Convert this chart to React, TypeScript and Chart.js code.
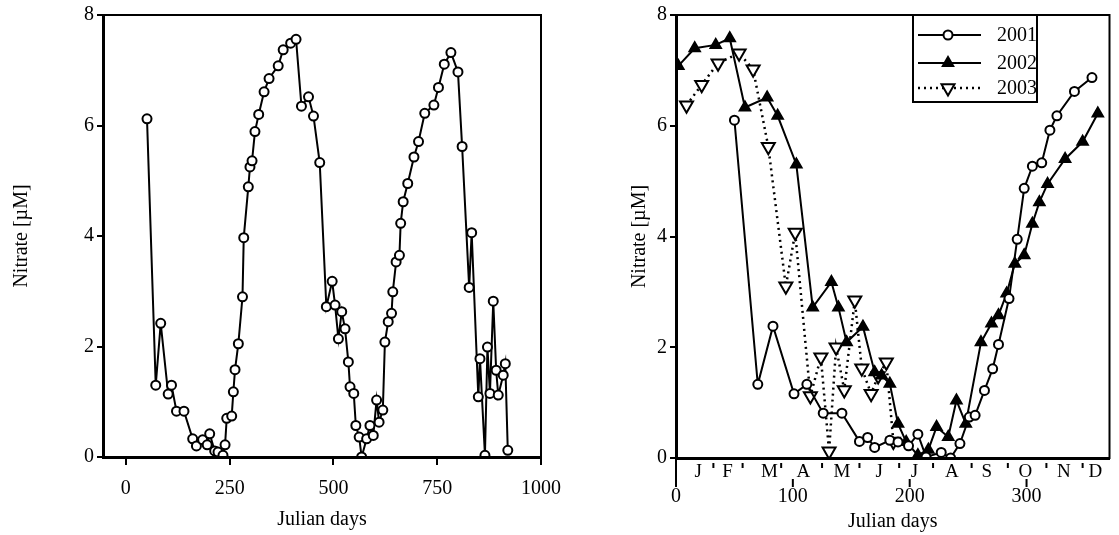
import React, { useEffect, useRef } from "react";
import { Chart, registerables } from "chart.js";

Chart.register(...registerables);

// ---------- data ----------
const leftXTicks = [0, 250, 500, 750, 1000];
const yTicks = [0, 2, 4, 6, 8];

const leftDays = [51, 72, 84, 102, 110, 122, 140, 161, 170, 185, 196, 202, 214, 222, 234, 239, 243, 255, 259, 263, 271, 281, 284, 295, 299, 304, 311, 320, 333, 345, 367, 379, 397, 410, 423, 440, 452, 467, 483, 497, 504, 512, 520, 528, 536, 540, 549, 554, 562, 568, 580, 588, 596, 604, 610, 619, 624, 632, 640, 643, 651, 659, 662, 668, 679, 694, 705, 720, 742, 753, 767, 783, 800, 810, 827, 833, 849, 853, 865, 871, 877, 885, 892, 897, 909, 914, 920];
const leftNitrate = [6.12, 1.30, 2.42, 1.14, 1.30, 0.83, 0.83, 0.33, 0.20, 0.31, 0.22, 0.42, 0.11, 0.09, 0.03, 0.22, 0.70, 0.74, 1.18, 1.58, 2.05, 2.90, 3.97, 4.89, 5.25, 5.36, 5.89, 6.20, 6.61, 6.85, 7.08, 7.37, 7.49, 7.56, 6.35, 6.52, 6.17, 5.33, 2.72, 3.18, 2.75, 2.14, 2.63, 2.32, 1.72, 1.27, 1.15, 0.57, 0.36, 0.0, 0.33, 0.57, 0.39, 1.03, 0.63, 0.85, 2.08, 2.45, 2.60, 2.99, 3.53, 3.65, 4.23, 4.62, 4.95, 5.43, 5.71, 6.22, 6.37, 6.69, 7.11, 7.32, 6.97, 5.62, 3.07, 4.06, 1.09, 1.78, 0.03, 1.99, 1.15, 2.82, 1.57, 1.12, 1.48, 1.69, 0.12];

const rightXTicks = [0, 100, 200, 300];
const monthLetters = ["J", "F", "M", "A", "M", "J", "J", "A", "S", "O", "N", "D"];
const monthLetterDays = [19, 44, 80, 109, 142, 174, 204, 236, 266, 299, 332, 359];
const monthBoundaryDays = [32, 57, 90, 125, 157, 191, 220, 253, 284, 317, 348];

const days2001 = [50, 70, 83, 101, 112, 126, 142, 157, 164, 170, 183, 190, 199, 207, 214, 227, 235, 243, 251, 256, 264, 271, 276, 285, 292, 298, 305, 313, 320, 326, 341, 356];
const nitrate2001 = [6.10, 1.33, 2.38, 1.16, 1.33, 0.81, 0.81, 0.30, 0.37, 0.19, 0.32, 0.29, 0.22, 0.43, 0.02, 0.10, 0.0, 0.26, 0.74, 0.77, 1.22, 1.61, 2.05, 2.88, 3.95, 4.87, 5.27, 5.33, 5.92, 6.18, 6.62, 6.87];

const days2002 = [2, 16, 34, 46, 59, 78, 87, 103, 117, 133, 139, 146, 160, 170, 176, 183, 190, 197, 207, 216, 223, 233, 240, 248, 261, 270, 276, 283, 290, 298, 305, 311, 318, 333, 348, 361];
const nitrate2002 = [7.08, 7.40, 7.46, 7.58, 6.33, 6.51, 6.18, 5.30, 2.72, 3.18, 2.72, 2.09, 2.37, 1.55, 1.49, 1.34, 0.62, 0.29, 0.05, 0.15, 0.56, 0.38, 1.04, 0.62, 2.09, 2.43, 2.58, 2.97, 3.51, 3.66, 4.23, 4.62, 4.95, 5.40, 5.71, 6.22];

const days2003 = [9, 22, 36, 54, 66, 79, 94, 102, 115, 124, 131, 137, 144, 153, 159, 167, 173, 180, 186];
const nitrate2003 = [6.37, 6.74, 7.13, 7.31, 7.02, 5.62, 3.10, 4.07, 1.12, 1.82, 0.12, 2.00, 1.23, 2.85, 1.62, 1.16, 1.48, 1.73, 0.30];

const seriesNames = ["2001", "2002", "2003"];

// ---------- helpers ----------
const FONT = "'Liberation Serif', 'Times New Roman', serif";
const pts = (xs: number[], ys: number[]) => xs.map((x, i) => ({ x, y: ys[i] }));
const plainLabel = (v: any) => String(v);

const framePlugin = {
  id: "frame",
  afterDraw(chart: any) {
    const { ctx, chartArea: a } = chart;
    ctx.save();
    ctx.strokeStyle = "#000";
    ctx.lineWidth = 2;
    ctx.strokeRect(a.left, a.top, a.right - a.left, a.bottom - a.top);
    ctx.restore();
  },
};

function drawMarker(ctx: CanvasRenderingContext2D, kind: string, x: number, y: number) {
  ctx.save();
  ctx.strokeStyle = "#000";
  ctx.lineWidth = 2;
  if (kind === "circle") {
    ctx.beginPath();
    ctx.arc(x, y, 4.5, 0, Math.PI * 2);
    ctx.fillStyle = "#fff";
    ctx.fill();
    ctx.stroke();
  } else if (kind === "up") {
    const r = 6;
    ctx.beginPath();
    for (let k = 0; k < 3; k++) {
      const ang = (k * 2 * Math.PI) / 3;
      const px = x + Math.sin(ang) * r;
      const py = y - Math.cos(ang) * r;
      k === 0 ? ctx.moveTo(px, py) : ctx.lineTo(px, py);
    }
    ctx.closePath();
    ctx.fillStyle = "#000";
    ctx.fill();
    ctx.stroke();
  } else {
    const r = 7.5;
    ctx.beginPath();
    for (let k = 0; k < 3; k++) {
      const ang = Math.PI + (k * 2 * Math.PI) / 3;
      const px = x + Math.sin(ang) * r;
      const py = y - Math.cos(ang) * r;
      k === 0 ? ctx.moveTo(px, py) : ctx.lineTo(px, py);
    }
    ctx.closePath();
    ctx.fillStyle = "#fff";
    ctx.fill();
    ctx.stroke();
  }
  ctx.restore();
}

const monthPlugin = {
  id: "months",
  afterDraw(chart: any) {
    const { ctx, chartArea: a } = chart;
    const xs = chart.scales.x;
    ctx.save();
    ctx.fillStyle = "#000";
    ctx.strokeStyle = "#000";
    ctx.font = `19px ${FONT}`;
    ctx.textAlign = "center";
    ctx.textBaseline = "middle";
    monthLetters.forEach((m, i) => {
      ctx.fillText(m, xs.getPixelForValue(monthLetterDays[i]), a.bottom + 14);
    });
    ctx.lineWidth = 2;
    monthBoundaryDays.forEach((d) => {
      const px = xs.getPixelForValue(d);
      ctx.beginPath();
      ctx.moveTo(px, a.bottom + 5);
      ctx.lineTo(px, a.bottom + 10);
      ctx.stroke();
    });
    rightXTicks.forEach((v) => {
      const px = xs.getPixelForValue(v);
      ctx.beginPath();
      ctx.moveTo(px, v === 0 ? a.bottom : a.bottom + 21);
      ctx.lineTo(px, a.bottom + 29);
      ctx.stroke();
    });
    ctx.restore();
  },
};

const legendPlugin = {
  id: "boxLegend",
  afterDraw(chart: any) {
    const { ctx } = chart;
    const bx = 313, by = 15, bw = 124, bh = 87;
    ctx.save();
    ctx.fillStyle = "#fff";
    ctx.fillRect(bx, by, bw, bh);
    ctx.strokeStyle = "#000";
    ctx.lineWidth = 2;
    ctx.strokeRect(bx, by, bw, bh);
    const rows = [35, 63, 88];
    const kinds = ["circle", "up", "down"];
    rows.forEach((ry, i) => {
      ctx.save();
      ctx.strokeStyle = "#000";
      ctx.lineWidth = i === 2 ? 2.5 : 2;
      if (i === 2) {
        ctx.setLineDash([2, 4]);
      }
      ctx.beginPath();
      ctx.moveTo(bx + 5, ry);
      ctx.lineTo(bx + 68, ry);
      ctx.stroke();
      ctx.restore();
      drawMarker(ctx, kinds[i], bx + 35, ry);
      ctx.fillStyle = "#000";
      ctx.font = `20px ${FONT}`;
      ctx.textAlign = "left";
      ctx.textBaseline = "middle";
      ctx.fillText(seriesNames[i], bx + 84, ry + 1);
    });
    ctx.restore();
  },
};

function axisY(width: number, titlePad: number) {
  return {
    type: "linear",
    min: 0,
    max: 8,
    afterBuildTicks: (s: any) => {
      s.ticks = yTicks.map((v) => ({ value: v }));
    },
    afterFit: (s: any) => {
      s.width = width;
    },
    grid: { drawOnChartArea: false, drawTicks: true, tickLength: 6, color: "#000", lineWidth: 2 },
    border: { display: true, color: "#000", width: 3 },
    ticks: { color: "#000", font: { family: FONT, size: 20 }, padding: 3, callback: plainLabel },
    title: {
      display: true,
      text: "Nitrate [\u00b5M]",
      color: "#000",
      font: { family: FONT, size: 20 },
      padding: { top: titlePad, bottom: 0 },
    },
  };
}

function leftConfig(): any {
  return {
    type: "line",
    data: {
      datasets: [
        {
          data: pts(leftDays, leftNitrate),
          borderColor: "#000",
          borderWidth: 2,
          pointRadius: 4.5,
          pointBorderWidth: 2,
          pointBackgroundColor: "#fff",
          pointBorderColor: "#000",
          pointStyle: "circle",
          tension: 0,
          fill: false,
        },
      ],
    },
    options: {
      responsive: false,
      animation: false,
      layout: { padding: { left: 0, right: 59, top: 15, bottom: 0 } },
      plugins: { legend: { display: false }, tooltip: { enabled: false } },
      scales: {
        x: {
          type: "linear",
          min: -55,
          max: 1000,
          afterBuildTicks: (s: any) => {
            s.ticks = leftXTicks.map((v) => ({ value: v }));
          },
          afterFit: (s: any) => {
            s.height = 78;
          },
          grid: { drawOnChartArea: false, drawTicks: true, tickLength: 8, color: "#000", lineWidth: 2 },
          border: { display: true, color: "#000", width: 3 },
          ticks: { color: "#000", font: { family: FONT, size: 20 }, padding: 12, maxRotation: 0, autoSkip: false, callback: plainLabel },
          title: {
            display: true,
            text: "Julian days",
            color: "#000",
            font: { family: FONT, size: 20 },
            padding: { top: 0, bottom: 3 },
          },
        },
        y: axisY(103, 10),
      },
    },
    plugins: [framePlugin],
  };
}

function rightConfig(): any {
  const base = {
    borderColor: "#000",
    borderWidth: 2,
    pointBorderColor: "#000",
    pointBorderWidth: 2,
    tension: 0,
    fill: false,
  };
  return {
    type: "line",
    data: {
      datasets: [
        {
          ...base,
          label: seriesNames[0],
          data: pts(days2001, nitrate2001),
          pointStyle: "circle",
          pointRadius: 4.5,
          pointBackgroundColor: "#fff",
        },
        {
          ...base,
          label: seriesNames[1],
          data: pts(days2002, nitrate2002),
          pointStyle: "triangle",
          pointRadius: 6,
          pointBackgroundColor: "#000",
        },
        {
          ...base,
          label: seriesNames[2],
          data: pts(days2003, nitrate2003),
          pointStyle: "triangle",
          pointRotation: 180,
          pointRadius: 7.5,
          pointBackgroundColor: "#fff",
          borderDash: [2, 4],
          borderWidth: 2.5,
        },
      ],
    },
    options: {
      responsive: false,
      animation: false,
      layout: { padding: { left: 0, right: 9, top: 15, bottom: 0 } },
      plugins: { legend: { display: false }, tooltip: { enabled: false } },
      scales: {
        x: {
          type: "linear",
          min: 0,
          max: 371,
          afterBuildTicks: (s: any) => {
            s.ticks = rightXTicks.map((v) => ({ value: v }));
          },
          afterFit: (s: any) => {
            s.height = 77;
          },
          grid: { drawOnChartArea: false, drawTicks: false, color: "#000" },
          border: { display: true, color: "#000", width: 3 },
          ticks: { color: "#000", font: { family: FONT, size: 20 }, padding: 27, maxRotation: 0, autoSkip: false, callback: plainLabel },
          title: {
            display: true,
            text: "Julian days",
            color: "#000",
            font: { family: FONT, size: 20 },
            padding: { top: 0, bottom: 1 },
          },
        },
        y: axisY(76, 28),
      },
    },
    plugins: [framePlugin, monthPlugin, legendPlugin],
  };
}

export default function App() {
  const leftRef = useRef<HTMLCanvasElement>(null);
  const rightRef = useRef<HTMLCanvasElement>(null);

  useEffect(() => {
    const c1 = new Chart(leftRef.current as HTMLCanvasElement, leftConfig());
    const c2 = new Chart(rightRef.current as HTMLCanvasElement, rightConfig());
    return () => {
      c1.destroy();
      c2.destroy();
    };
  }, []);

  return (
    <div style={{ position: "fixed", left: 0, top: 0, width: 1119, height: 535, background: "#fff" }}>
      <canvas ref={leftRef} width={600} height={535} style={{ position: "absolute", left: 0, top: 0 }} />
      <canvas ref={rightRef} width={519} height={535} style={{ position: "absolute", left: 600, top: 0 }} />
    </div>
  );
}
